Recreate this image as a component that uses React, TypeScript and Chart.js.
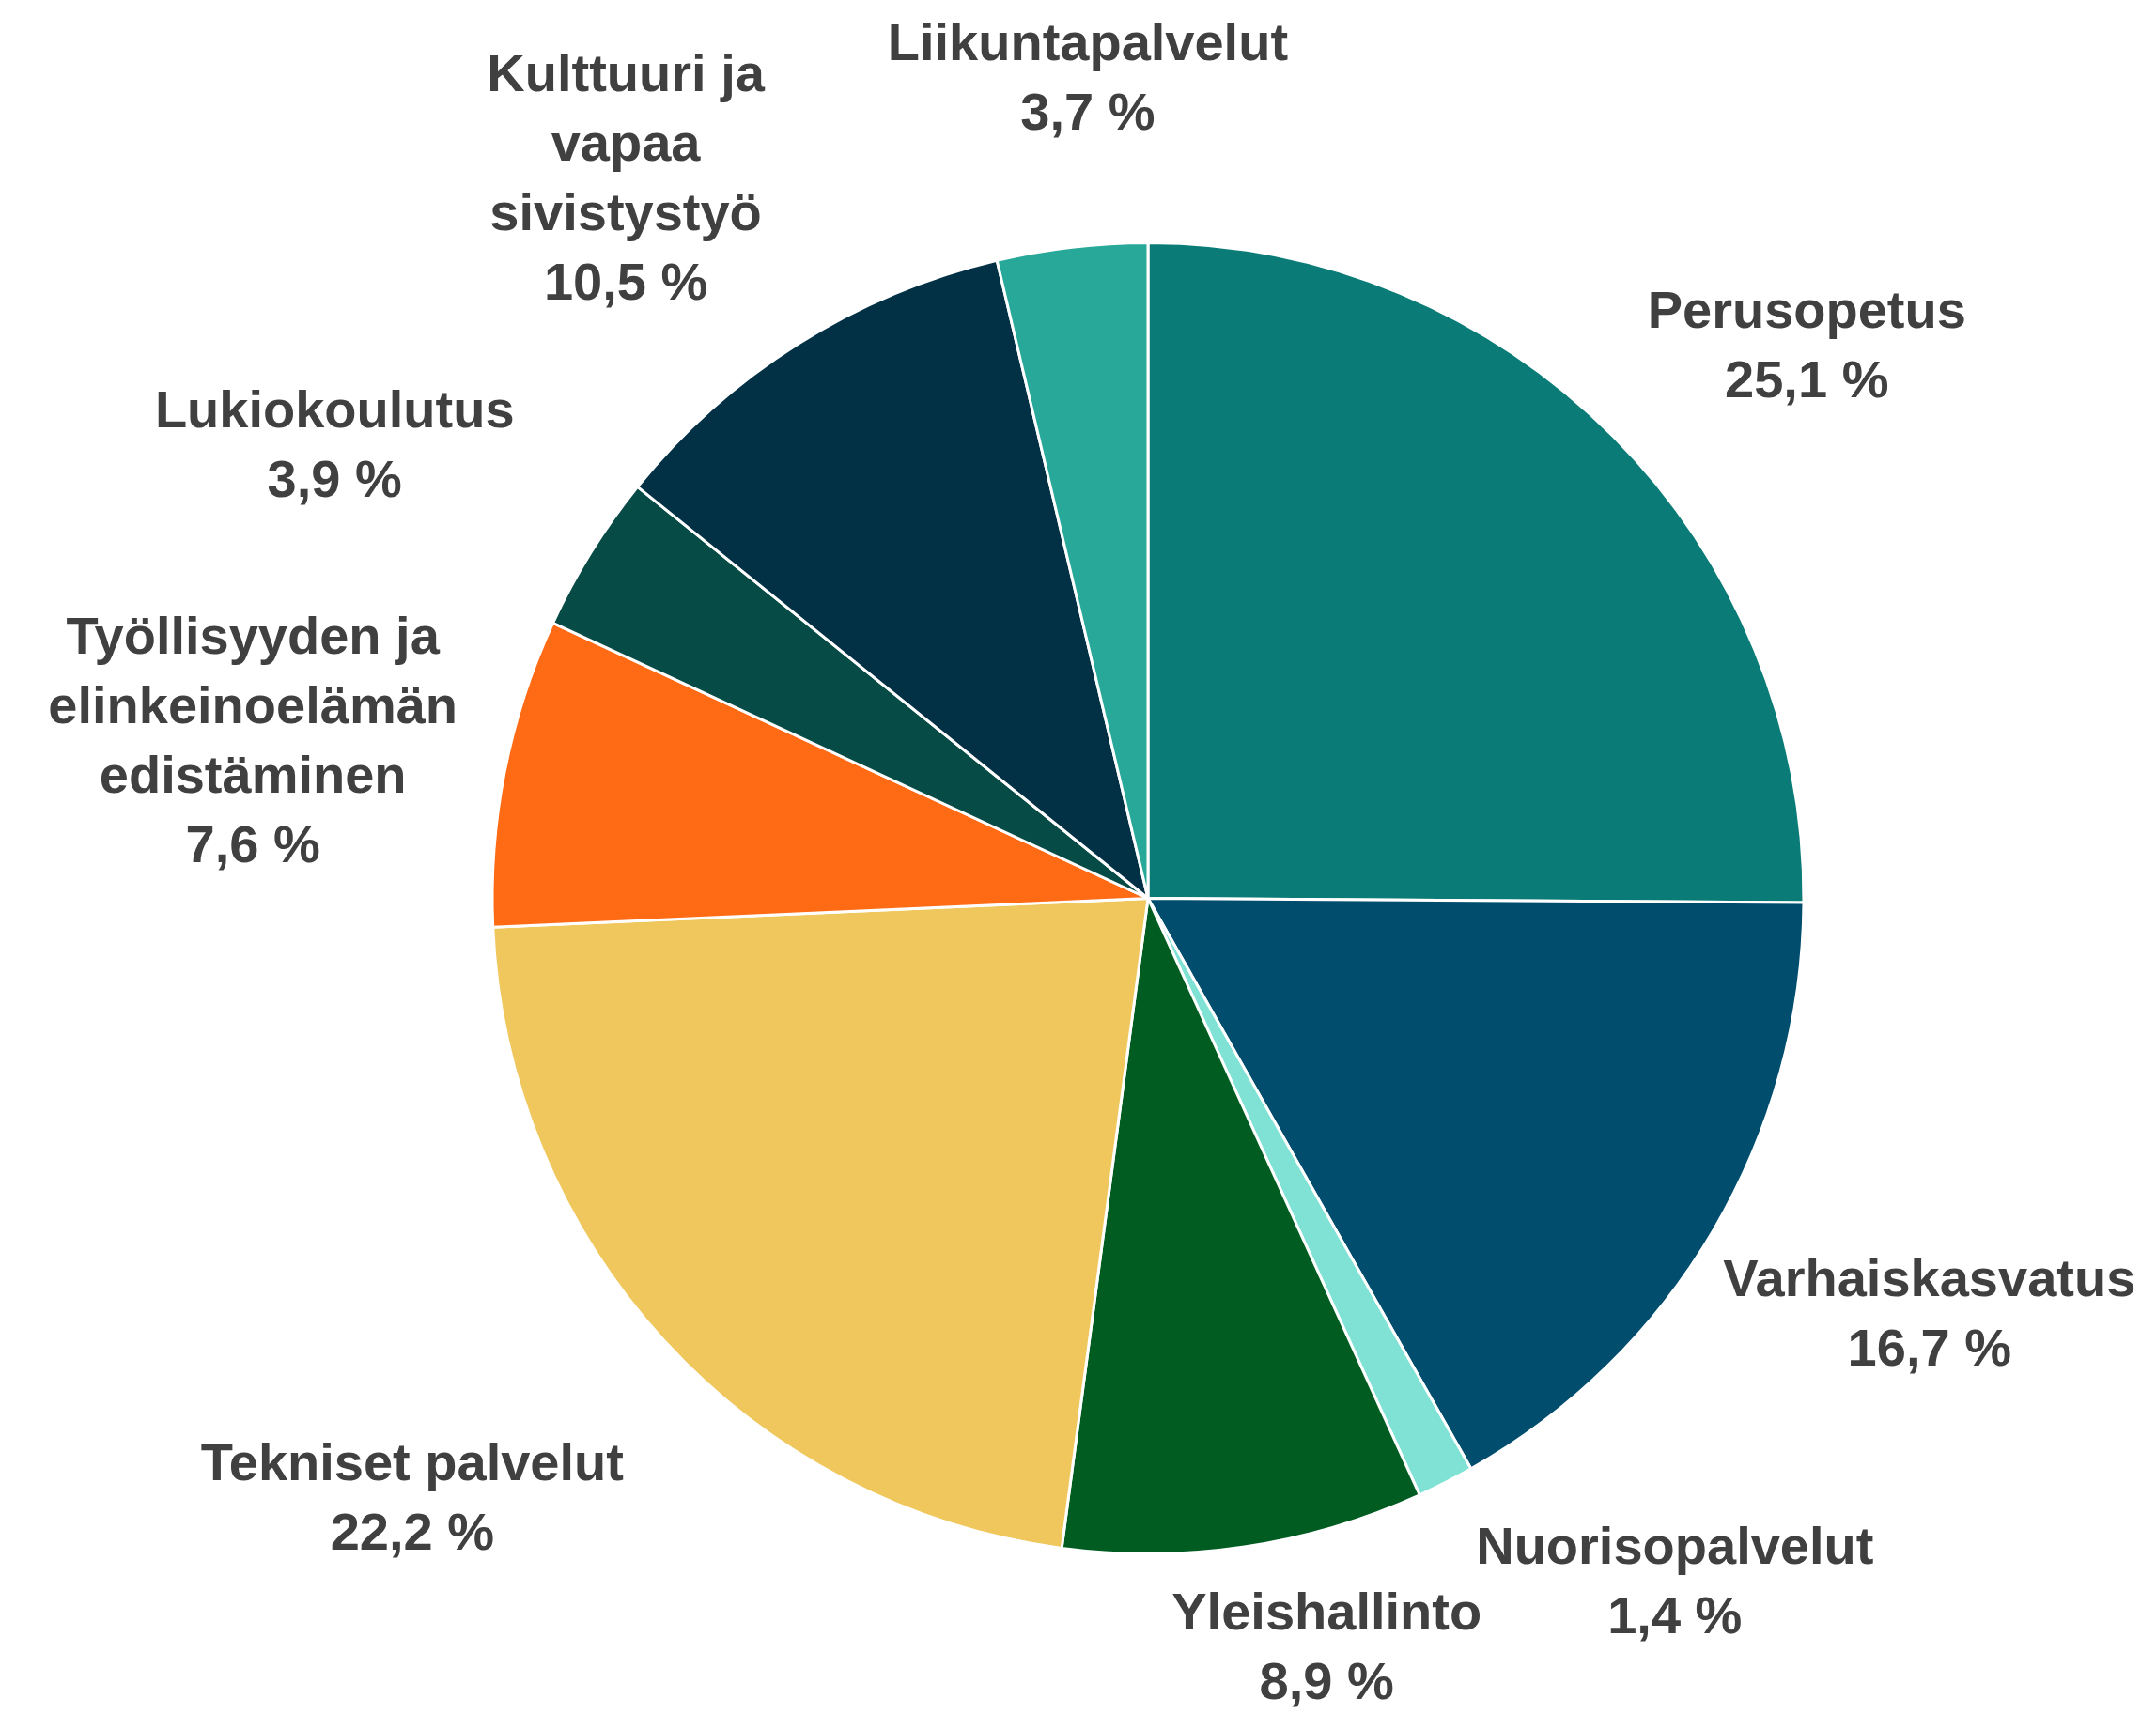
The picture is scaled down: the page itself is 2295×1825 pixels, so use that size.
import React, { useEffect, useRef } from "react";
import { Chart, registerables } from "chart.js";

Chart.register(...registerables);

const categories: string[][] = [
  ["Perusopetus"],
  ["Varhaiskasvatus"],
  ["Nuorisopalvelut"],
  ["Yleishallinto"],
  ["Tekniset palvelut"],
  ["Työllisyyden ja", "elinkeinoelämän", "edistäminen"],
  ["Lukiokoulutus"],
  ["Kulttuuri ja", "vapaa", "sivistystyö"],
  ["Liikuntapalvelut"],
];

const shares: number[] = [25.1, 16.7, 1.4, 8.9, 22.2, 7.6, 3.9, 10.5, 3.7];

const colors: string[] = [
  "#0A7B76",
  "#004D6E",
  "#7FE2D5",
  "#005C21",
  "#F0C75D",
  "#FF6A14",
  "#074B47",
  "#023044",
  "#28A898",
];

// label placement nudges (layout only, px)
const labelNudge: [number, number][] = [
  [22, 22],
  [-37, 9],
  [107, -38],
  [50, -53],
  [-36, 59],
  [34, 16],
  [-34, -25],
  [-57, 28],
  [52, -15],
];

const FONT = "bold 56px 'Liberation Sans', Arial, sans-serif";
const LINE_H = 74;
const LABEL_GAP = 90;

function fmt(v: number): string {
  return v.toFixed(1).replace(".", ",") + " %";
}

const labelPlugin = {
  id: "outsideLabels",
  afterDraw(chart: any) {
    const ctx = chart.ctx;
    const meta = chart.getDatasetMeta(0);
    ctx.save();
    ctx.font = FONT;
    ctx.fillStyle = "#404040";
    ctx.textAlign = "center";
    ctx.textBaseline = "middle";
    meta.data.forEach((arc: any, i: number) => {
      const lines = [...categories[i], fmt(shares[i])];
      const w = Math.max(...lines.map((l) => ctx.measureText(l).width));
      const h = lines.length * LINE_H;
      const mid = (arc.startAngle + arc.endAngle) / 2;
      const c = Math.cos(mid);
      const s = Math.sin(mid);
      const r = arc.outerRadius + LABEL_GAP;
      const cx = arc.x + r * c + (c * w) / 2 + labelNudge[i][0];
      const cy = arc.y + r * s + (s * h) / 2 + labelNudge[i][1];
      lines.forEach((l, k) => {
        const y = cy - h / 2 + LINE_H * (k + 0.5);
        ctx.fillText(l, cx, y);
      });
    });
    ctx.restore();
  },
};

export default function App() {
  const ref = useRef<HTMLCanvasElement | null>(null);
  useEffect(() => {
    document.body.style.margin = "0";
    const canvas = ref.current!;
    const chart = new Chart(canvas, {
      type: "pie",
      data: {
        labels: categories.map((c) => c.join(" ")),
        datasets: [
          {
            data: shares,
            backgroundColor: colors,
            borderColor: "#FFFFFF",
            borderWidth: 3,
          },
        ],
      },
      options: {
        responsive: false,
        animation: false,
        layout: { padding: { left: 522, right: 373, top: 257, bottom: 169 } },
        plugins: {
          legend: { display: false },
          tooltip: { enabled: false },
        },
      },
      plugins: [labelPlugin],
    });
    return () => chart.destroy();
  }, []);
  return (
    <div style={{ width: 2295, height: 1825, background: "#FFFFFF" }}>
      <canvas ref={ref} width={2295} height={1825} />
    </div>
  );
}
